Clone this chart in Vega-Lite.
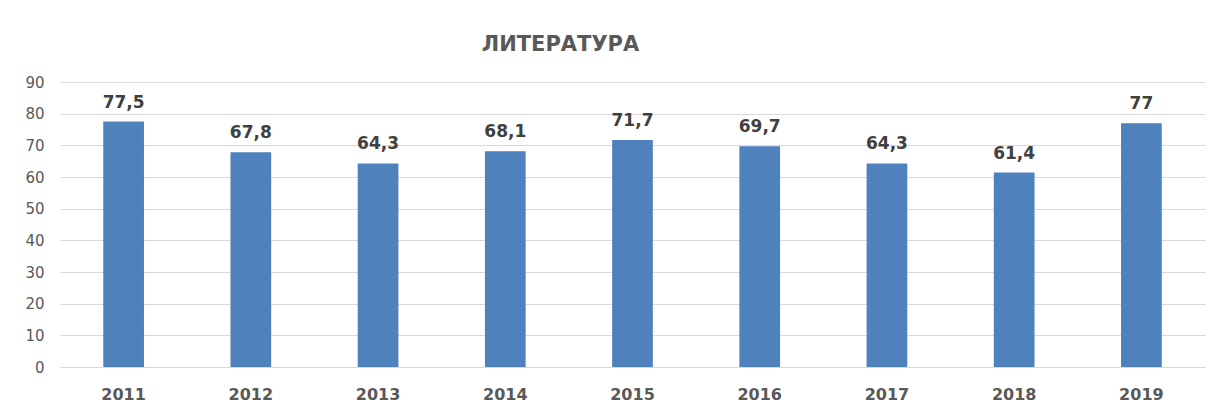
{
  "$schema": "https://vega.github.io/schema/vega-lite/v6.json",
  "autosize": {"type": "none"},
  "width": 1145,
  "height": 285,
  "padding": {"left": 60, "top": 82, "right": 12, "bottom": 43},
  "background": "white",
  "title": {
    "text": "ЛИТЕРАТУРА",
    "anchor": "middle",
    "dx": -72,
    "offset": 3,
    "baseline": "alphabetic",
    "font": "DejaVu Sans",
    "fontSize": 21,
    "fontWeight": "bold",
    "color": "#595959"
  },
  "data": {
    "values": [
      {"year": "2011", "value": 77.5, "label": "77,5"},
      {"year": "2012", "value": 67.8, "label": "67,8"},
      {"year": "2013", "value": 64.3, "label": "64,3"},
      {"year": "2014", "value": 68.1, "label": "68,1"},
      {"year": "2015", "value": 71.7, "label": "71,7"},
      {"year": "2016", "value": 69.7, "label": "69,7"},
      {"year": "2017", "value": 64.3, "label": "64,3"},
      {"year": "2018", "value": 61.4, "label": "61,4"},
      {"year": "2019", "value": 77, "label": "77"}
    ]
  },
  "encoding": {
    "x": {
      "field": "year",
      "type": "nominal",
      "sort": null,
      "scale": {"paddingInner": 0.68, "paddingOuter": 0.34},
      "axis": {
        "title": null,
        "labelAngle": 0,
        "ticks": false,
        "domain": true,
        "domainColor": "#D9D9D9",
        "labelFont": "DejaVu Sans",
        "labelFontSize": 16,
        "labelFontWeight": "bold",
        "labelColor": "#595959",
        "labelPadding": 32,
        "labelBaseline": "alphabetic"
      }
    },
    "y": {
      "field": "value",
      "type": "quantitative",
      "scale": {"domain": [0, 90]},
      "axis": {
        "title": null,
        "values": [0, 10, 20, 30, 40, 50, 60, 70, 80, 90],
        "ticks": false,
        "domain": false,
        "gridColor": "#D9D9D9",
        "gridWidth": 1,
        "labelFont": "DejaVu Sans",
        "labelFontSize": 15,
        "labelColor": "#595959",
        "labelPadding": 16
      }
    }
  },
  "layer": [
    {"mark": {"type": "bar", "color": "#4F81BD"}},
    {
      "mark": {
        "type": "text",
        "baseline": "alphabetic",
        "dy": -14,
        "font": "DejaVu Sans",
        "fontSize": 17,
        "fontWeight": "bold",
        "color": "#404040"
      },
      "encoding": {"text": {"field": "label"}}
    }
  ],
  "config": {"view": {"stroke": null}}
}
